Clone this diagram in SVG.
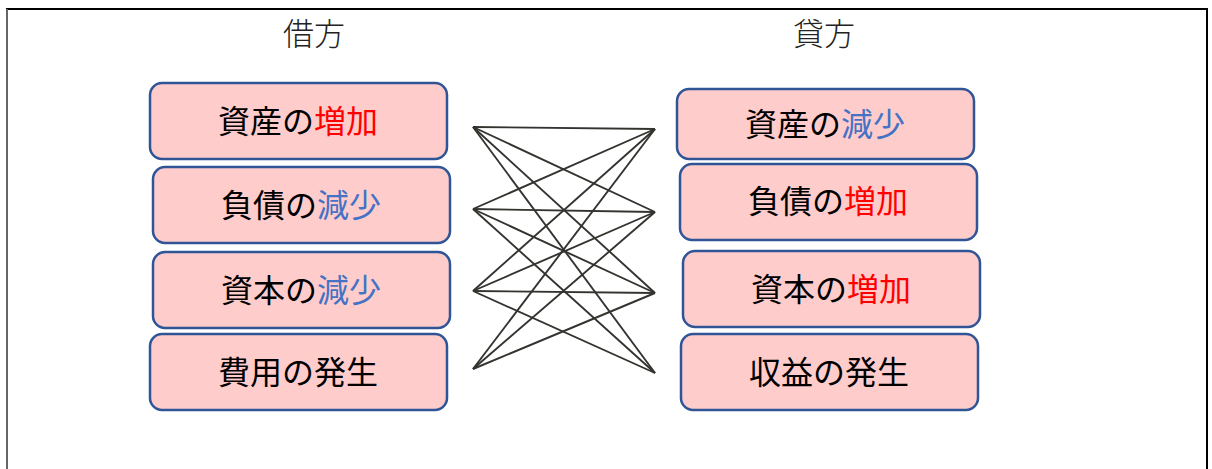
<svg xmlns="http://www.w3.org/2000/svg" width="1212" height="469" viewBox="0 0 1212 469">
<style>
.box{fill:#FFCCCC;stroke:#2F5597;stroke-width:2.5}
.t{font-family:"Noto Sans CJK JP","Noto Sans CJK SC",sans-serif;font-size:32px;text-anchor:middle;fill:#000}
.h{font-family:"Noto Sans CJK JP","Noto Sans CJK SC",sans-serif;font-size:31px;font-weight:300;text-anchor:middle;fill:#222}
.r{fill:#FF0000}
.b{fill:#4472C4}
.c line{stroke:#33332f;stroke-width:1.9}
</style>
<rect width="1212" height="469" fill="#fff"/>
<g id="frame">
<line x1="6" y1="9" x2="1208" y2="9" stroke="#000" stroke-width="2"/>
<line x1="7" y1="9" x2="7" y2="469" stroke="#666" stroke-width="2"/>
<line x1="1207" y1="9" x2="1207" y2="469" stroke="#000" stroke-width="2"/>
</g>
<g id="header-debit"><text class="h" x="314" y="45">借方</text></g>
<g id="header-credit"><text class="h" x="824" y="45">貸方</text></g>
<g id="d1"><rect class="box" x="150" y="83" width="297" height="76" rx="12"/><text class="t" x="298" y="133">資産の<tspan class="r">増加</tspan></text></g>
<g id="d2"><rect class="box" x="153" y="167" width="297" height="76" rx="12"/><text class="t" x="301" y="217">負債の<tspan class="b">減少</tspan></text></g>
<g id="d3"><rect class="box" x="153" y="252" width="297" height="76" rx="12"/><text class="t" x="301" y="302">資本の<tspan class="b">減少</tspan></text></g>
<g id="d4"><rect class="box" x="150" y="334" width="297" height="76" rx="12"/><text class="t" x="298" y="384">費用の発生</text></g>
<g id="c1"><rect class="box" x="677" y="89" width="297" height="70" rx="12"/><text class="t" x="825" y="136">資産の<tspan class="b">減少</tspan></text></g>
<g id="c2"><rect class="box" x="680" y="164" width="297" height="76" rx="12"/><text class="t" x="828" y="213">負債の<tspan class="r">増加</tspan></text></g>
<g id="c3"><rect class="box" x="683" y="251" width="297" height="76" rx="12"/><text class="t" x="831" y="301">資本の<tspan class="r">増加</tspan></text></g>
<g id="c4"><rect class="box" x="681" y="334" width="297" height="76" rx="12"/><text class="t" x="829" y="384">収益の発生</text></g>
<g id="connectors" class="c">
<line x1="473" y1="127" x2="655" y2="129"/>
<line x1="473" y1="127" x2="655" y2="212"/>
<line x1="473" y1="127" x2="655" y2="293"/>
<line x1="473" y1="127" x2="655" y2="373"/>
<line x1="473" y1="209" x2="655" y2="129"/>
<line x1="473" y1="209" x2="655" y2="212"/>
<line x1="473" y1="209" x2="655" y2="293"/>
<line x1="473" y1="209" x2="655" y2="373"/>
<line x1="473" y1="291" x2="655" y2="129"/>
<line x1="473" y1="291" x2="655" y2="212"/>
<line x1="473" y1="291" x2="655" y2="293"/>
<line x1="473" y1="291" x2="655" y2="373"/>
<line x1="473" y1="369" x2="655" y2="129"/>
<line x1="473" y1="369" x2="655" y2="212"/>
<line x1="473" y1="369" x2="655" y2="293"/>
</g>
</svg>
